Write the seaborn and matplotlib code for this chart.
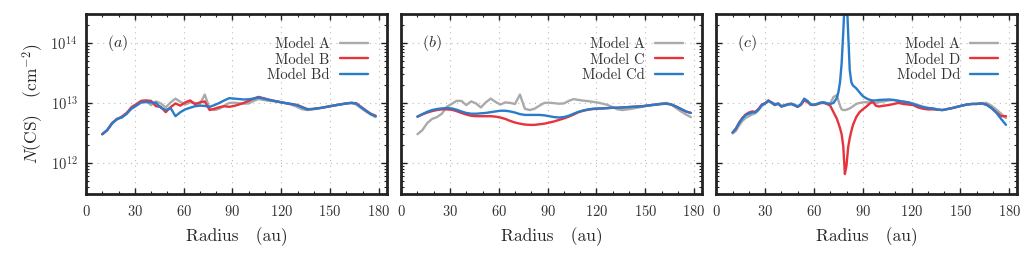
import numpy as np
import pandas as pd
import matplotlib
matplotlib.use("Agg")
import matplotlib.pyplot as plt
import seaborn as sns
from matplotlib.ticker import MultipleLocator, LogLocator, NullFormatter

# ================================
# Datos (N(CS) en unidades de 1e12 cm^-2)
# ================================
# malla radial de los paneles (a) y (b)
radius_ab = [10, 13, 16, 19, 22, 25, 28, 31, 34, 37, 40, 43, 46, 49, 52, 55, 58, 61, 64, 67,
             70, 73, 76, 79, 82, 85, 88, 91, 94, 97, 100, 103, 106, 109, 112, 115, 118, 121, 124, 127,
             130, 133, 136, 139, 142, 145, 148, 151, 154, 157, 160, 163, 166, 169, 172, 175, 178]

model_a = [3.0, 3.5, 4.6, 5.4, 5.8, 6.6, 8.6, 9.6, 10.8, 10.8, 9.2, 10.6, 9.8, 8.4, 10.2, 11.8, 10.4, 9.4, 10.2, 10.0,
           9.6, 13.8, 8.0, 7.6, 8.0, 9.0, 10.0, 10.1, 9.9, 9.7, 9.8, 10.8, 11.6, 11.2, 10.9, 10.7, 10.4, 10.1, 9.7, 9.2,
           8.5, 7.8, 7.6, 7.8, 8.0, 8.3, 8.6, 8.9, 9.2, 9.5, 9.8, 10.0, 9.4, 8.2, 7.2, 6.4, 5.8]

model_b = [3.0, 3.5, 4.6, 5.3, 5.9, 6.8, 8.4, 9.5, 10.8, 11.0, 10.8, 8.8, 8.6, 7.0, 8.5, 9.8, 9.0, 10.2, 11.0, 9.5,
           10.2, 10.6, 7.6, 8.0, 8.5, 8.8, 8.6, 8.9, 9.4, 10.0, 10.8, 11.8, 12.6, 12.0, 11.4, 10.9, 10.5, 10.1, 9.8, 9.5,
           9.2, 8.5, 7.9, 7.9, 8.1, 8.3, 8.6, 8.9, 9.2, 9.5, 9.8, 10.0, 9.9, 8.6, 7.5, 6.6, 6.1]

model_bd = [3.0, 3.5, 4.5, 5.4, 5.7, 6.6, 8.0, 9.0, 10.2, 10.3, 10.2, 10.0, 8.3, 7.6, 8.2, 6.0, 7.0, 7.8, 8.3, 8.8,
            9.0, 8.9, 8.6, 9.2, 10.0, 11.0, 12.0, 11.8, 11.6, 11.4, 11.5, 11.8, 12.3, 11.9, 11.3, 10.9, 10.5, 10.1, 9.8, 9.5,
            9.1, 8.4, 7.8, 7.9, 8.1, 8.3, 8.6, 8.9, 9.2, 9.5, 9.8, 10.0, 9.8, 8.5, 7.4, 6.5, 6.0]

model_c = [5.9, 6.4, 6.9, 7.3, 7.6, 7.8, 7.8, 7.7, 7.3, 6.8, 6.4, 6.1, 6.0, 6.0, 6.0, 6.0, 5.9, 5.7, 5.4, 5.0,
           4.7, 4.5, 4.35, 4.3, 4.3, 4.4, 4.5, 4.7, 4.9, 5.2, 5.5, 5.9, 6.4, 7.0, 7.4, 7.7, 7.9, 8.0, 8.1, 8.2,
           8.3, 8.3, 8.4, 8.5, 8.6, 8.7, 8.8, 9.0, 9.2, 9.4, 9.6, 9.7, 9.4, 8.7, 7.9, 7.2, 6.8]

model_cd = [5.9, 6.5, 7.1, 7.6, 7.9, 8.1, 8.2, 8.1, 7.7, 7.2, 6.8, 6.6, 6.6, 6.7, 6.8, 7.0, 7.2, 7.4, 7.4, 7.2,
            6.9, 6.5, 6.3, 6.3, 6.3, 6.3, 6.2, 6.0, 5.8, 5.7, 5.8, 6.1, 6.6, 7.1, 7.5, 7.8, 8.0, 8.1, 8.1, 8.2,
            8.3, 8.3, 8.4, 8.5, 8.6, 8.7, 8.8, 9.0, 9.2, 9.4, 9.6, 9.7, 9.4, 8.7, 7.9, 7.2, 6.8]

# malla radial mas fina del panel (c)
radius_c = [10, 12, 14, 16, 18, 20, 22, 24, 26, 28, 30, 32, 34, 36, 38, 40, 42, 44, 46, 48,
            50, 52, 54, 56, 58, 60, 62, 64, 66, 68, 70, 72, 74, 75, 76, 77, 78, 79, 80, 81,
            82, 83, 84, 85, 86, 88, 90, 92, 94, 96, 98, 100, 103, 106, 109, 112, 115, 118, 121, 124,
            127, 130, 133, 136, 139, 142, 145, 148, 151, 154, 157, 160, 163, 166, 169, 172, 175, 178]

model_a_c = [3.1, 3.4, 4.2, 5.0, 5.6, 6.0, 6.4, 6.7, 7.6, 8.9, 9.8, 10.6, 10.3, 9.6, 9.9, 9.0, 9.2, 9.6, 9.8, 9.4,
             8.8, 9.6, 11.2, 10.8, 9.6, 9.4, 9.7, 10.1, 10.3, 9.9, 9.8, 12.5, 13.5, 11.0, 9.0, 7.8, 7.6, 7.6, 7.7, 7.9,
             8.1, 8.4, 8.8, 9.2, 9.6, 10.0, 10.2, 10.3, 10.2, 10.0, 10.0, 10.3, 10.6, 11.0, 11.2, 10.9, 10.5, 10.2, 9.8, 9.2,
             8.7, 8.3, 8.1, 7.8, 7.6, 7.9, 8.2, 8.6, 9.0, 9.4, 9.6, 9.7, 9.9, 10.0, 9.0, 7.8, 6.6, 5.6]

model_d = [3.2, 3.7, 4.7, 5.6, 6.4, 6.9, 7.2, 7.1, 8.0, 9.4, 9.9, 11.0, 10.1, 9.3, 9.7, 8.7, 9.1, 9.4, 9.6, 9.1,
           8.6, 9.3, 11.0, 10.4, 9.3, 9.2, 9.5, 9.9, 10.0, 9.6, 9.0, 7.0, 5.5, 4.6, 3.8, 3.0, 1.9, 0.65, 0.9, 1.8,
           2.6, 3.4, 4.3, 5.0, 5.8, 7.0, 7.8, 8.6, 9.6, 10.6, 9.0, 8.7, 9.0, 9.2, 9.6, 10.0, 9.6, 9.4, 9.2, 8.4,
           8.0, 7.8, 7.8, 7.7, 7.6, 7.9, 8.2, 8.6, 9.0, 9.4, 9.6, 9.6, 9.8, 9.3, 8.3, 7.0, 6.0, 6.0]

model_dd = [3.2, 3.7, 4.6, 5.5, 6.3, 6.6, 6.9, 7.0, 7.8, 9.2, 9.8, 10.9, 10.0, 9.2, 9.7, 8.7, 9.0, 9.4, 9.6, 9.2,
            8.6, 9.5, 11.8, 10.8, 9.4, 9.3, 9.6, 10.1, 10.2, 9.8, 9.6, 10.0, 12.0, 15.0, 22.0, 45.0, 150.0, 600.0, 700.0, 150.0,
            35.0, 22.0, 19.5, 18.5, 17.5, 15.0, 13.0, 12.0, 11.3, 11.0, 11.0, 11.2, 11.3, 11.4, 11.2, 10.8, 10.5, 10.2, 9.6, 9.0,
            8.5, 8.2, 8.1, 7.7, 7.6, 7.9, 8.2, 8.6, 9.0, 9.4, 9.6, 9.6, 9.8, 9.4, 8.2, 6.9, 5.4, 4.3]

UNIT = 1e12

gray = "#aaaaaa"
red = "#e8323c"
blue = "#2a7bc9"

panels = [
    ("(a)", [("Model A", radius_ab, model_a, gray),
             ("Model B", radius_ab, model_b, red),
             ("Model Bd", radius_ab, model_bd, blue)]),
    ("(b)", [("Model A", radius_ab, model_a, gray),
             ("Model C", radius_ab, model_c, red),
             ("Model Cd", radius_ab, model_cd, blue)]),
    ("(c)", [("Model A", radius_c, model_a_c, gray),
             ("Model D", radius_c, model_d, red),
             ("Model Dd", radius_c, model_dd, blue)]),
]

# ================================
# Estilo
# ================================
sns.set_style("ticks")
plt.rcParams["font.family"] = "serif"
plt.rcParams["font.serif"] = ["cmr10", "DejaVu Serif"]
plt.rcParams["mathtext.fontset"] = "cm"
plt.rcParams["axes.formatter.use_mathtext"] = True
plt.rcParams["text.color"] = "#333333"
plt.rcParams["xtick.color"] = "#222222"
plt.rcParams["ytick.color"] = "#222222"
plt.rcParams["xtick.labelcolor"] = "#333333"
plt.rcParams["ytick.labelcolor"] = "#333333"

fig, axes = plt.subplots(1, 3, figsize=(10.36, 2.63), dpi=100, sharey=True)
fig.subplots_adjust(left=0.083, right=0.982, bottom=0.262, top=0.945, wspace=0.047)

for ax, (tag, series) in zip(axes, panels):
    for name, r, n, col in series:
        df = pd.DataFrame({"r": r, "N": np.array(n) * UNIT})
        sns.lineplot(data=df, x="r", y="N", ax=ax, color=col, lw=1.7, label=name)

    ax.set_yscale("log")
    ax.set_ylim(3e11, 3e14)
    ax.set_xlim(0, 185)
    ax.xaxis.set_major_locator(MultipleLocator(30))
    ax.xaxis.set_minor_locator(MultipleLocator(10))
    ax.yaxis.set_major_locator(LogLocator(base=10, numticks=10))
    ax.yaxis.set_minor_locator(LogLocator(base=10, subs=np.arange(2, 10), numticks=10))
    ax.yaxis.set_minor_formatter(NullFormatter())

    ax.tick_params(which="both", direction="in", top=True, right=True, labelsize=10.5)
    ax.tick_params(which="major", length=4.5, width=1.0)
    ax.tick_params(which="minor", length=2.5, width=0.8)
    ax.tick_params(axis="x", pad=7)
    ax.tick_params(axis="y", pad=6)

    ax.grid(True, which="major", ls=(0, (1, 4)), lw=0.8, color="#bbbbbb")
    for s in ax.spines.values():
        s.set_linewidth(2.0)
        s.set_color("#222222")

    ax.set_xlabel("Radius   (au)", fontsize=12.5, labelpad=6)
    ax.set_ylabel("")
    ax.text(0.07, 0.84, "$" + tag + "$", transform=ax.transAxes, fontsize=11.5,
            ha="left", va="center")

    leg = ax.legend(loc="upper right", frameon=False, markerfirst=False, fontsize=10.5,
                    handlelength=1.9, handletextpad=0.7, labelspacing=0.12,
                    bbox_to_anchor=(0.955, 0.905), borderaxespad=0.0)

axes[0].set_ylabel("$N$(CS)   (cm$^{-2}$)", fontsize=12.5, labelpad=4)
for ax in axes[1:]:
    ax.tick_params(labelleft=False)

fig.savefig("out.png", dpi=100)
